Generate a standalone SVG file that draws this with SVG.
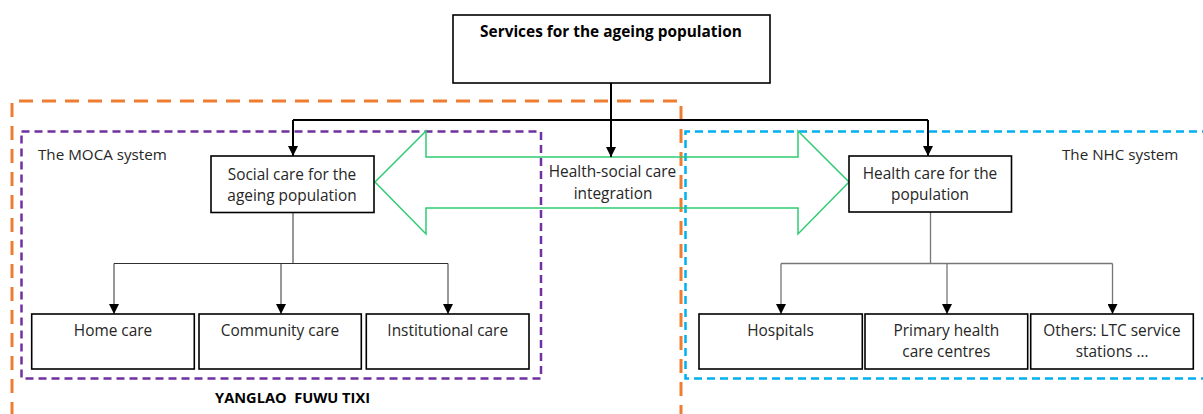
<svg xmlns="http://www.w3.org/2000/svg" width="1203" height="414" viewBox="0 0 1203 414">
  <defs>
    <style>
      .box { fill: #ffffff; stroke: #000000; stroke-width: 1.6; }
      .txt { font-family: "Open Sans", "Liberation Sans", sans-serif; font-size: 15.4px; fill: #262626; text-anchor: middle; }
      .lbl { font-family: "Open Sans", "Liberation Sans", sans-serif; font-size: 15.2px; fill: #262626; }
      .bold { font-family: "Open Sans", "Liberation Sans", sans-serif; font-size: 15.4px; font-weight: bold; fill: #000000; text-anchor: middle; }
      .main { fill: none; stroke: #000000; stroke-width: 2; }
      .subl { fill: none; stroke: #303030; stroke-width: 1; }
      .subr { fill: none; stroke: #767676; stroke-width: 1.3; }
    </style>
    <marker id="ah" viewBox="0 0 10 10" refX="10" refY="5" markerWidth="5" markerHeight="5" orient="auto" markerUnits="strokeWidth">
      <path d="M0,0 L10,5 L0,10 z" fill="#000000"/>
    </marker>
    <marker id="ahs" viewBox="0 0 10 10" refX="10" refY="5" markerWidth="10" markerHeight="10" orient="auto" markerUnits="userSpaceOnUse">
      <path d="M0,0 L10,5 L0,10 z" fill="#000000"/>
    </marker>
  </defs>
  <rect width="1203" height="414" fill="#ffffff"/>

  <g id="regions">
    <path id="yanglao-region" d="M12,416 L12,101 L681,101 L681,416" fill="none" stroke="#ED7D31" stroke-width="3" stroke-dasharray="14 9"/>
    <rect id="moca-region" x="21.5" y="131.5" width="519.5" height="247" fill="none" stroke="#7030A0" stroke-width="2.5" stroke-dasharray="8 5"/>
    <path id="nhc-region" d="M1210,131.5 L685.5,131.5 L685.5,378.5 L1210,378.5" fill="none" stroke="#00B0F0" stroke-width="2.5" stroke-dasharray="8 5"/>
    <text class="lbl" x="38" y="160">The MOCA system</text>
    <text class="lbl" x="1062" y="160">The NHC system</text>
    <text class="bold" x="292.5" y="403" style="font-size:14.6px" xml:space="preserve">YANGLAO  FUWU TIXI</text>
  </g>

  <g id="integration">
    <polygon points="375,182 426,131 426,157 798,157 798,131 849,182 798,234 798,208 426,208 426,234" fill="none" stroke="#2ECC71" stroke-width="1.5"/>
    <text class="txt" x="612.5" y="177">Health-social care</text>
    <text class="txt" x="613" y="199">integration</text>
  </g>

  <g id="connectors">
    <path class="main" d="M611,83 L611,120"/>
    <path class="main" d="M293,120 L928,120"/>
    <path class="main" d="M293,120 L293,156" marker-end="url(#ah)"/>
    <path class="main" d="M611,120 L611,157" marker-end="url(#ah)"/>
    <path class="main" d="M928,120 L928,156" marker-end="url(#ah)"/>

    <path class="subl" d="M293,213 L293,263.5 M114,263.5 L448,263.5"/>
    <path class="subl" d="M114,263.5 L114,314" marker-end="url(#ahs)"/>
    <path class="subl" d="M281,263.5 L281,314" marker-end="url(#ahs)"/>
    <path class="subl" d="M448,263.5 L448,314" marker-end="url(#ahs)"/>

    <path class="subr" d="M930.5,212 L930.5,263.5 M781,263.5 L1112.5,263.5"/>
    <path class="subr" d="M781,263.5 L781,314" marker-end="url(#ahs)"/>
    <path class="subr" d="M947,263.5 L947,314" marker-end="url(#ahs)"/>
    <path class="subr" d="M1112.5,263.5 L1112.5,314" marker-end="url(#ahs)"/>
  </g>

  <g id="node-services">
    <rect class="box" x="453" y="15" width="317" height="68"/>
    <text class="bold" x="611" y="37">Services for the ageing population</text>
  </g>

  <g id="node-social">
    <rect class="box" x="211" y="156" width="163" height="56.5"/>
    <text class="txt" x="292" y="179.5">Social care for the</text>
    <text class="txt" x="292" y="200.5">ageing population</text>
  </g>

  <g id="node-health">
    <rect class="box" x="849" y="156" width="162.5" height="56"/>
    <text class="txt" x="930" y="178.5">Health care for the</text>
    <text class="txt" x="930" y="200">population</text>
  </g>

  <g id="node-home">
    <rect class="box" x="31.7" y="314" width="162.6" height="55"/>
    <text class="txt" x="113" y="336">Home care</text>
  </g>
  <g id="node-community">
    <rect class="box" x="199" y="314" width="162.3" height="55"/>
    <text class="txt" x="280" y="336">Community care</text>
  </g>
  <g id="node-institutional">
    <rect class="box" x="366.3" y="314" width="162.7" height="55"/>
    <text class="txt" x="447.7" y="336">Institutional care</text>
  </g>

  <g id="node-hospitals">
    <rect class="box" x="699" y="314" width="163.3" height="55"/>
    <text class="txt" x="780.5" y="336">Hospitals</text>
  </g>
  <g id="node-primary">
    <rect class="box" x="865" y="314" width="162.7" height="55"/>
    <text class="txt" x="946.3" y="336">Primary health</text>
    <text class="txt" x="946.3" y="357.3">care centres</text>
  </g>
  <g id="node-others">
    <rect class="box" x="1030.7" y="314" width="162.6" height="55"/>
    <text class="txt" x="1112" y="336">Others: LTC service</text>
    <text class="txt" x="1112" y="357.3">stations …</text>
  </g>
</svg>
